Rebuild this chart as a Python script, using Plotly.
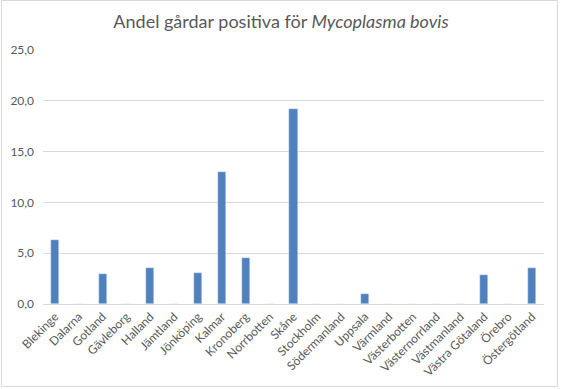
import plotly.graph_objects as go

categories = ["Blekinge", "Dalarna", "Gotland", "Gävleborg", "Halland", "Jämtland",
              "Jönköping", "Kalmar", "Kronoberg", "Norrbotten", "Skåne", "Stockholm",
              "Södermanland", "Uppsala", "Värmland", "Västerbotten", "Västernorrland",
              "Västmanland", "Västra Götaland", "Örebro", "Östergötland"]
values = [6.3, 0, 3.0, 0, 3.5, 0, 3.1, 13.0, 4.5, 0, 19.2, 0, 0, 1.0, 0, 0, 0, 0, 2.9, 0, 3.5]
y_ticks = [0, 5, 10, 15, 20, 25]

W, H = 562, 389
L, R, T, B = 43, 18, 50, 85
pw, ph = W - L - R, H - T - B

fig = go.Figure(go.Bar(x=categories, y=values, marker_color="#4F81BD", width=0.34,
                       hoverinfo="x+y"))

fig.update_layout(
    width=W, height=H,
    margin=dict(l=L, r=R, t=T, b=B, pad=0),
    paper_bgcolor="white", plot_bgcolor="white",
    font=dict(family="Lato, Open Sans, sans-serif", color="#595959", size=12),
    separators=",.",
    title=dict(text="Andel gårdar positiva för <i>Mycoplasma bovis</i>",
               x=0.5, xanchor="center", y=1 - 22 / H, yanchor="middle",
               font=dict(size=18, color="#595959")),
    showlegend=False,
    bargap=0,
    xaxis=dict(tickangle=-45, showgrid=False, showline=True, linecolor="#d9d9d9",
               linewidth=1, ticks="", tickfont=dict(size=12), fixedrange=True,
               automargin=False),
    yaxis=dict(range=[0, 25], tickvals=y_ticks, tickformat=".1f", showgrid=True,
               gridcolor="#d9d9d9", gridwidth=1, zeroline=False, showline=False,
               ticks="", ticklabelstandoff=8, tickfont=dict(size=12), fixedrange=True,
               automargin=False),
    shapes=[dict(type="rect", xref="paper", yref="paper",
                 x0=(1.5 - L) / pw, x1=(557.5 - L) / pw,
                 y0=(H - B - 386.5) / ph, y1=(H - B - 0.5) / ph,
                 line=dict(color="#d9d9d9", width=1), fillcolor="rgba(0,0,0,0)",
                 layer="below")],
)

fig.write_html("out.html", config={"displayModeBar": False},
               post_script="document.body.style.margin='0';")
